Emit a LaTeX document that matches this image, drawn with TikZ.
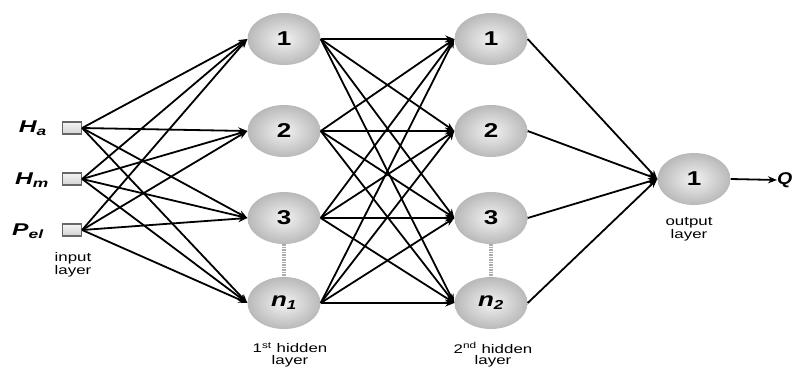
\documentclass[tikz,border=0pt]{standalone}
\usepackage{fontspec}
\setmainfont{Liberation Sans}
\usetikzlibrary{arrows.meta,shapes.geometric}
\newcommand\stretchtxt[2][1.35]{\scalebox{#1}[1]{#2}}
\begin{document}
\begin{tikzpicture}[x=1pt,y=-1pt,
  neuron/.style={ellipse,minimum width=73pt,minimum height=52pt,inner sep=0pt,
    inner color=gray!10,outer color=gray!55,font=\fontsize{20}{20}\selectfont\bfseries},
  inbox/.style={rectangle,minimum width=19pt,minimum height=12pt,inner sep=0pt,
    draw=gray!80!black,line width=1.2pt,top color=gray!8,bottom color=gray!35},
  conn/.style={line width=1.8pt,-{Stealth[length=9pt,width=7pt]}},
  lbl/.style={align=center,font=\fontsize{12.5}{11.5}\selectfont,inner sep=0pt},
  inlbl/.style={font=\fontsize{17}{17}\selectfont\bfseries\itshape,inner sep=0pt},
  dots/.style={gray!65,line width=3.5pt,dash pattern=on 1.5pt off 1pt}]
\useasboundingbox (0,0) rectangle (795,368);
% input
\node[inbox] (i1) at (72,128) {};
\node[inbox] (i2) at (72,179) {};
\node[inbox] (i3) at (72,230) {};
\node[inlbl] (li1) at (33,128) {\stretchtxt[1.45]{H\textsubscript{\fontsize{12}{12}\selectfont a}}};
\node[inlbl] (li2) at (32,180) {\stretchtxt[1.45]{H\textsubscript{\fontsize{12}{12}\selectfont m}}};
\node[inlbl] (li3) at (28,231) {\stretchtxt[1.45]{P\textsubscript{\fontsize{12}{12}\selectfont el}}};
\node[lbl] (lin) at (73,265) {\stretchtxt{input}\\\stretchtxt{layer}};
% hidden 1
\node[neuron] (a1) at (284,39) {\stretchtxt[1.3]{1}};
\node[neuron] (a2) at (284,131) {\stretchtxt[1.3]{2}};
\node[neuron] (a3) at (284,218) {\stretchtxt[1.3]{3}};
\node[neuron] (a4) at (284,303) {\stretchtxt[1.3]{\itshape n\textsubscript{\fontsize{13}{13}\selectfont 1}}};
% hidden 2
\node[neuron] (b1) at (491,39) {\stretchtxt[1.3]{1}};
\node[neuron] (b2) at (491,131) {\stretchtxt[1.3]{2}};
\node[neuron] (b3) at (491,218) {\stretchtxt[1.3]{3}};
\node[neuron] (b4) at (491,303) {\stretchtxt[1.3]{\itshape n\textsubscript{\fontsize{13}{13}\selectfont 2}}};
% output
\node[neuron] (o) at (694,179) {\stretchtxt[1.3]{1}};
\node[inlbl,anchor=west] (q) at (777,180) {\stretchtxt[1.15]{Q}};
\node[lbl] (lh1) at (290,355) {\stretchtxt{1\textsuperscript{st} hidden}\\\stretchtxt{layer}};
\node[lbl] (lh2) at (493,355) {\stretchtxt{2\textsuperscript{nd} hidden}\\\stretchtxt{layer}};
\node[lbl] (lo) at (689,229) {\stretchtxt{output}\\\stretchtxt{layer}};
% dotted
\draw[dots] (a3.south) -- (a4.north);
\draw[dots] (b3.south) -- (b4.north);
% connections
\foreach \i in {1,2,3}{\foreach \j in {1,2,3,4}{\draw[conn] (i\i.east) -- (a\j.west);}}
\foreach \i in {1,2,3,4}{\foreach \j in {1,2,3,4}{\draw[conn] (a\i.east) -- (b\j.west);}}
\foreach \i in {1,2,3,4}{\draw[conn] (b\i.east) -- (o.west);}
\draw[conn] (o.east) -- (q.west);
\end{tikzpicture}
\end{document}
